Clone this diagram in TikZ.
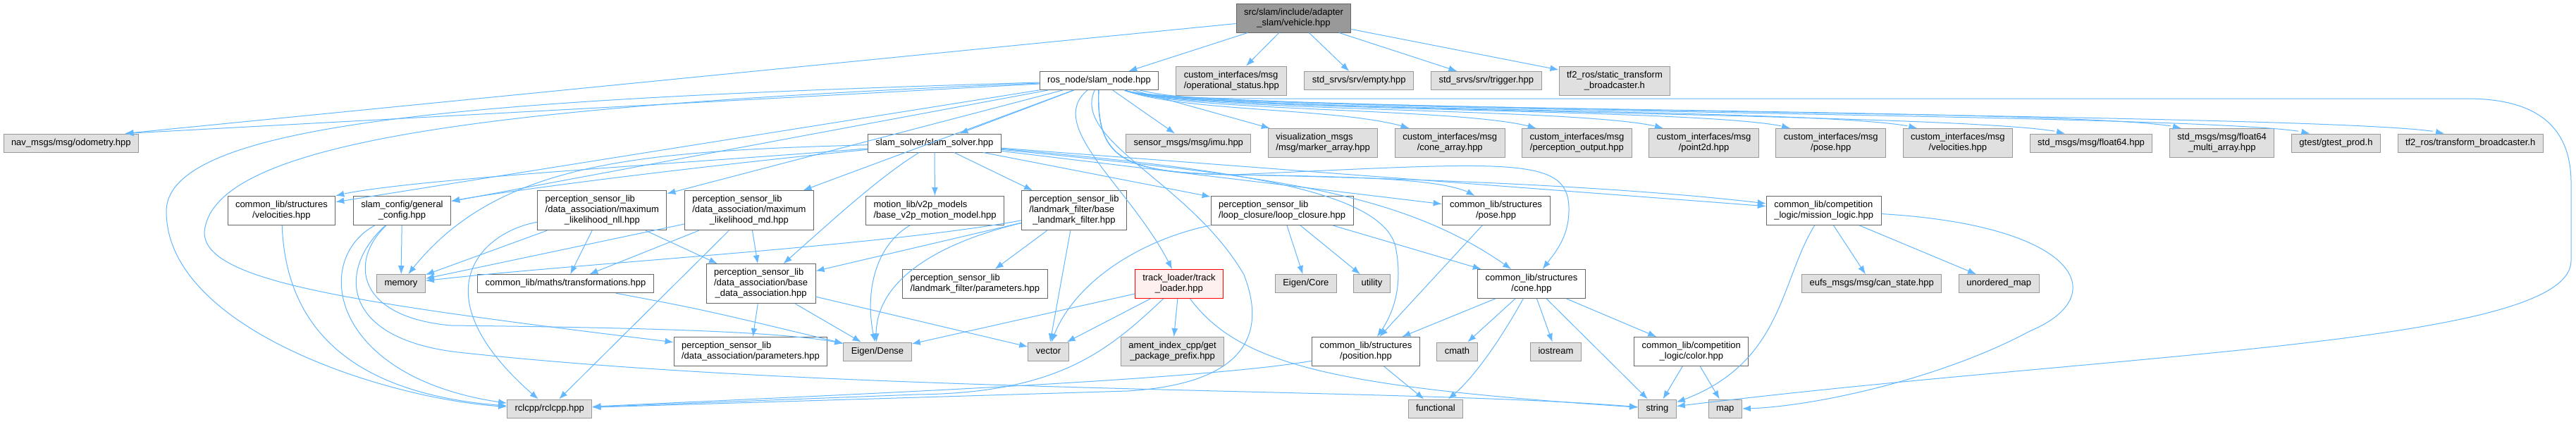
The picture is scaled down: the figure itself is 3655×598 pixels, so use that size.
\documentclass[tikz,border=0pt]{standalone}
\usepackage{fontspec}
\setmainfont{Liberation Sans}
\usepackage{xcolor}
\usepackage{tikz}
\usetikzlibrary{arrows.meta, bending, calc, positioning}

\definecolor{edgeblue}{HTML}{63B8FF}
\definecolor{sysfill}{HTML}{E0E0E0}
\definecolor{sysline}{HTML}{999999}
\definecolor{fileline}{HTML}{666666}
\definecolor{rootfill}{HTML}{999999}
\definecolor{truncfill}{HTML}{FFF0F0}

\newcommand{\lbl}[1]{\begin{tabular}{@{}l@{}}#1\end{tabular}}
\newcommand{\cln}[1]{\multicolumn{1}{@{}c@{}}{#1}}

\begin{document}
\begin{tikzpicture}[x=1pt, y=-1pt,
    incl/.style={draw=fileline, fill=white, line width=1pt, inner xsep=11pt, inner ysep=5.5pt, font=\fontsize{13}{15}\selectfont},
    sysincl/.style={incl, draw=sysline, fill=sysfill},
    rootincl/.style={incl, fill=rootfill},
    truncincl/.style={incl, draw=red, fill=truncfill},
    dep/.style={draw=edgeblue, line width=1pt, -{Latex[length=12pt, width=9pt]}}]
\path[fill=white] (0,0) rectangle (3655,598);

% files
\node[rootincl] (veh) at (1835.5,25.5) {\lbl{src/slam/include/adapter\\\cln{\_slam/vehicle.hpp}}};
\node[incl] (snode) at (1559.4,114.5) {\lbl{ros\_node/slam\_node.hpp}};
\node[sysincl, right=24pt of snode] (opst) {\lbl{custom\_interfaces/msg\\\cln{/operational\_status.hpp}}};
\node[sysincl, right=24pt of opst] (empty) {\lbl{std\_srvs/srv/empty.hpp}};
\node[sysincl, right=24pt of empty] (trig) {\lbl{std\_srvs/srv/trigger.hpp}};
\node[sysincl, right=24pt of trig] (stf) {\lbl{tf2\_ros/static\_transform\\\cln{\_broadcaster.h}}};

\node[sysincl] (odom) at (100.8,203) {\lbl{nav\_msgs/msg/odometry.hpp}};
\node[incl] (solver) at (1325.9,203) {\lbl{slam\_solver/slam\_solver.hpp}};
\node[sysincl] (imu) at (1686.3,203) {\lbl{sensor\_msgs/msg/imu.hpp}};
\node[sysincl, right=23.5pt of imu] (mark) {\lbl{visualization\_msgs\\\cln{/msg/marker\_array.hpp}}};
\node[sysincl, right=23.5pt of mark] (cones) {\lbl{custom\_interfaces/msg\\\cln{/cone\_array.hpp}}};
\node[sysincl, right=23.5pt of cones] (perc) {\lbl{custom\_interfaces/msg\\\cln{/perception\_output.hpp}}};
\node[sysincl, right=23.5pt of perc] (pt2d) {\lbl{custom\_interfaces/msg\\\cln{/point2d.hpp}}};
\node[sysincl, right=23.5pt of pt2d] (posemsg) {\lbl{custom\_interfaces/msg\\\cln{/pose.hpp}}};
\node[sysincl, right=23.5pt of posemsg] (velmsg) {\lbl{custom\_interfaces/msg\\\cln{/velocities.hpp}}};
\node[sysincl, right=23.5pt of velmsg] (f64) {\lbl{std\_msgs/msg/float64.hpp}};
\node[sysincl, right=23.5pt of f64] (f64m) {\lbl{std\_msgs/msg/float64\\\cln{\_multi\_array.hpp}}};
\node[sysincl, right=23.5pt of f64m] (gtest) {\lbl{gtest/gtest\_prod.h}};
\node[sysincl, right=23.5pt of gtest] (tfb) {\lbl{tf2\_ros/transform\_broadcaster.h}};

\node[incl] (vel) at (399.4,298.8) {\lbl{common\_lib/structures\\\cln{/velocities.hpp}}};
\node[incl, right=24.5pt of vel] (cfg) {\lbl{slam\_config/general\\\cln{\_config.hpp}}};
\node[incl] (nll) at (854.3,298.7) {\lbl{perception\_sensor\_lib\\/data\_association/maximum\\\cln{\_likelihood\_nll.hpp}}};
\node[incl, right=24.5pt of nll] (md) {\lbl{perception\_sensor\_lib\\/data\_association/maximum\\\cln{\_likelihood\_md.hpp}}};
\node[incl] (motion) at (1326.6,298.8) {\lbl{motion\_lib/v2p\_models\\\cln{/base\_v2p\_motion\_model.hpp}}};
\node[incl, right=23.7pt of motion] (lmf) {\lbl{perception\_sensor\_lib\\/landmark\_filter/base\\\cln{\_landmark\_filter.hpp}}};
\node[incl] (loop) at (1819.1,298.8) {\lbl{perception\_sensor\_lib\\\cln{/loop\_closure/loop\_closure.hpp}}};
\node[incl] (pose) at (2122.6,298.8) {\lbl{common\_lib/structures\\\cln{/pose.hpp}}};
\node[incl] (mission) at (2587.7,298.8) {\lbl{common\_lib/competition\\\cln{\_logic/mission\_logic.hpp}}};

\node[sysincl] (mem) at (569,402.7) {\lbl{memory}};
\node[incl] (trf) at (802.5,402.7) {\lbl{common\_lib/maths/transformations.hpp}};
\node[incl] (bda) at (1079.6,402.8) {\lbl{perception\_sensor\_lib\\/data\_association/base\\\cln{\_data\_association.hpp}}};
\node[incl] (lfp) at (1383.4,403) {\lbl{perception\_sensor\_lib\\\cln{/landmark\_filter/parameters.hpp}}};
\node[truncincl] (track) at (1672.9,403) {\lbl{track\_loader/track\\\cln{\_loader.hpp}}};
\node[sysincl] (ecore) at (1852.8,402.7) {\lbl{Eigen/Core}};
\node[sysincl, right=23.3pt of ecore] (util) {\lbl{utility}};
\node[incl] (cone) at (2173,403) {\lbl{common\_lib/structures\\\cln{/cone.hpp}}};
\node[sysincl] (canst) at (2655.7,402.7) {\lbl{eufs\_msgs/msg/can\_state.hpp}};
\node[sysincl, right=23.5pt of canst] (umap) {\lbl{unordered\_map}};

\node[incl] (dap) at (1065,499) {\lbl{perception\_sensor\_lib\\\cln{/data\_association/parameters.hpp}}};
\node[sysincl] (dense) at (1245,499) {\lbl{Eigen/Dense}};
\node[sysincl] (vec) at (1487.5,499) {\lbl{vector}};
\node[sysincl] (ament) at (1663.6,499) {\lbl{ament\_index\_cpp/get\\\cln{\_package\_prefix.hpp}}};
\node[incl] (pos) at (1938,499) {\lbl{common\_lib/structures\\\cln{/position.hpp}}};
\node[sysincl] (cmath) at (2067.5,499) {\lbl{cmath}};
\node[sysincl] (iostr) at (2207.5,499) {\lbl{iostream}};
\node[incl] (color) at (2399.8,499) {\lbl{common\_lib/competition\\\cln{\_logic/color.hpp}}};

\node[sysincl] (rcl) at (779.7,580) {\lbl{rclcpp/rclcpp.hpp}};
\node[sysincl] (func) at (2036.8,580) {\lbl{functional}};
\node[sysincl] (str) at (2351.4,580) {\lbl{string}};
\node[sysincl] (map) at (2447.8,580) {\lbl{map}};

% vehicle.hpp
\draw[dep] (veh) -- (odom.10);
\draw[dep] (veh) -- (snode);
\draw[dep] (veh) -- (opst);
\draw[dep] (veh) -- (empty);
\draw[dep] (veh) -- (trig);
\draw[dep] (veh) -- (stf);

% slam_node.hpp
\draw[dep] (snode) -- (odom.10);
\draw[dep] (snode) -- (solver);
\draw[dep] (snode) -- (imu);
\draw[dep] (snode) -- (mark);
\foreach \tgt in {cones,perc,pt2d,posemsg,velmsg,f64,f64m,gtest,tfb}
  \draw[dep] (snode) .. controls (1680,160) and ($(\tgt.160)+(-90,-30)$) .. (\tgt.160);
\draw[dep] (snode) -- (vel);
\draw[dep] (snode) -- (cfg);
\draw[dep] (snode) -- (nll);
\draw[dep] (snode) -- (md);
\draw[dep] (snode) .. controls (700,150) and (300,200) .. (290,330) .. controls (290,400) and (500,430) .. (dap);
\draw[dep] (snode) .. controls (700,140) and (236,170) .. (236,300) .. controls (236,470) and (560,570) .. (rcl);
\draw[dep] (snode) .. controls (1520,200) and (1690,260) .. (1765,390) .. controls (1800,480) and (1760,545) .. (1600,555) -- (rcl);
\draw[dep] (snode) .. controls (1660,138) and (1700,140) .. (1800,140) -- (3500,140) .. controls (3600,140) and (3648,180) .. (3648,260) -- (3648,370) .. controls (3648,490) and (3000,500) .. (str);
\draw[dep] (snode) .. controls (1480,180) and (1610,270) .. (track);
\draw[dep] (snode) .. controls (1555,230) and (1600,245) .. (1750,248) .. controls (2100,255) and (2350,270) .. (mission);
\draw[dep] (snode) .. controls (1555,230) and (1600,245) .. (1750,248) .. controls (1950,251) and (2060,255) .. (pose);
\draw[dep] (snode) .. controls (1555,230) and (1600,245) .. (1750,248) .. controls (2150,230) and (2228,220) .. (2226,300) .. controls (2225,340) and (2205,360) .. (cone);

% slam_solver.hpp
\draw[dep] (solver) .. controls (1000,230) and (560,255) .. (vel);
\draw[dep] (solver) .. controls (1000,235) and (720,270) .. (cfg);
\draw[dep] (solver) .. controls (900,215) and (700,230) .. (mem);
\draw[dep] (solver) -- (motion);
\draw[dep] (solver) -- (lmf);
\draw[dep] (solver) .. controls (1250,250) and (1195,300) .. (bda);
\draw[dep] (solver) -- (loop);
\draw[dep] (solver) -- (pose);
\draw[dep] (solver) -- (mission);
\draw[dep] (solver) .. controls (1800,250) and (1990,270) .. (cone);
\draw[dep] (solver) .. controls (1750,240) and (1960,270) .. (1980,350) .. controls (1992,410) and (1975,450) .. (pos);

\draw[dep] (vel) .. controls (405,450) and (480,560) .. (rcl);
\draw[dep] (cfg) -- (mem);
\draw[dep] (cfg) .. controls (440,370) and (470,540) .. (rcl);
\draw[dep] (cfg) .. controls (495,370) and (505,450) .. (640,462) .. controls (900,465) and (1120,470) .. (dense);
\draw[dep] (cfg) .. controls (480,380) and (480,480) .. (650,500) .. controls (1200,560) and (2000,550) .. (str);

\draw[dep] (nll) -- (mem);
\draw[dep] (nll) -- (trf);
\draw[dep] (nll) -- (bda);
\draw[dep] (nll) .. controls (680,330) and (590,420) .. (rcl);
\draw[dep] (md) -- (mem);
\draw[dep] (md) -- (trf);
\draw[dep] (md) -- (bda);
\draw[dep] (md) -- (rcl);

\draw[dep] (motion) .. controls (1240,350) and (1225,420) .. (dense);
\draw[dep] (lmf) .. controls (1250,350) and (800,375) .. (mem);
\draw[dep] (lmf) -- (bda);
\draw[dep] (lmf) -- (lfp);
\draw[dep] (lmf) -- (vec);
\draw[dep] (lmf) .. controls (1330,345) and (1235,400) .. (dense);

\draw[dep] (loop) -- (ecore);
\draw[dep] (loop) -- (util);
\draw[dep] (loop) -- (cone);
\draw[dep] (loop) .. controls (1620,340) and (1520,400) .. (vec);

\draw[dep] (track) -- (dense);
\draw[dep] (track) -- (vec);
\draw[dep] (track) -- (ament);
\draw[dep] (track) .. controls (1570,500) and (1500,558) .. (1300,560) -- (rcl);
\draw[dep] (track) .. controls (1760,520) and (1900,550) .. (str);

\draw[dep] (trf) .. controls (1000,440) .. (dense);
\draw[dep] (bda) -- (dap);
\draw[dep] (bda) -- (dense);
\draw[dep] (bda) -- (vec);
\draw[dep] (pose) -- (pos);

\draw[dep] (cone) -- (pos);
\draw[dep] (cone) -- (cmath);
\draw[dep] (cone) .. controls (2130,480) and (2090,540) .. (func);
\draw[dep] (cone) -- (iostr);
\draw[dep] (cone) -- (str);
\draw[dep] (cone) -- (color);
\draw[dep] (pos) -- (func);
\draw[dep] (pos) .. controls (1700,540) and (1200,560) .. (rcl);
\draw[dep] (color) -- (str);
\draw[dep] (color) -- (map);

\draw[dep] (mission) -- (canst);
\draw[dep] (mission) -- (umap);
\draw[dep] (mission) .. controls (2525,400) and (2530,520) .. (str);
\draw[dep] (mission) .. controls (2950,320) and (3000,420) .. (2880,470) .. controls (2750,540) and (2560,580) .. (map);
\end{tikzpicture}
\end{document}
